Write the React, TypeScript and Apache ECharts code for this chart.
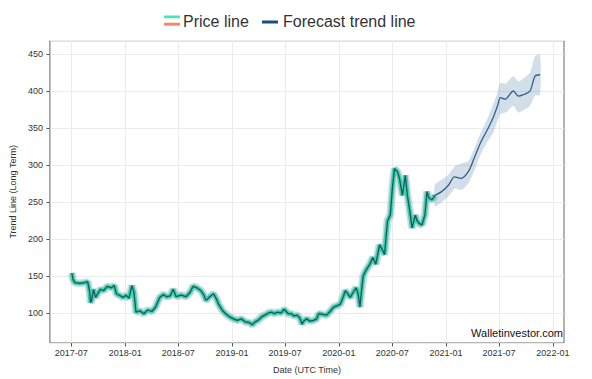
import React, { useEffect, useRef } from "react";
import * as echarts from "echarts";

const priceDates = [
  "2017-07-03", "2017-07-07", "2017-07-13", "2017-07-30", "2017-08-16", "2017-08-26", "2017-09-02", "2017-09-05",
  "2017-09-09", "2017-09-15", "2017-09-22", "2017-09-29", "2017-10-09", "2017-10-19", "2017-11-01", "2017-11-15",
  "2017-11-25", "2017-12-02", "2017-12-12", "2017-12-25", "2018-01-04", "2018-01-14", "2018-01-24", "2018-01-31",
  "2018-02-07", "2018-02-20", "2018-03-06", "2018-03-19", "2018-04-02", "2018-04-15", "2018-04-29", "2018-05-12",
  "2018-05-22", "2018-06-04", "2018-06-14", "2018-06-24", "2018-07-11", "2018-07-28", "2018-08-11", "2018-08-21",
  "2018-09-03", "2018-09-17", "2018-09-27", "2018-10-04", "2018-10-17", "2018-10-30", "2018-11-10", "2018-11-16",
  "2018-11-30", "2018-12-10", "2018-12-23", "2019-01-06", "2019-01-19", "2019-02-02", "2019-02-15", "2019-03-01",
  "2019-03-11", "2019-03-21", "2019-03-31", "2019-04-13", "2019-04-23", "2019-05-06", "2019-05-16", "2019-05-26",
  "2019-06-05", "2019-06-18", "2019-06-28", "2019-07-12", "2019-07-22", "2019-08-01", "2019-08-11", "2019-08-21",
  "2019-08-28", "2019-09-03", "2019-09-13", "2019-09-24", "2019-10-07", "2019-10-17", "2019-10-24", "2019-11-07",
  "2019-11-20", "2019-12-04", "2019-12-14", "2019-12-27", "2020-01-06", "2020-01-16", "2020-01-23", "2020-02-02",
  "2020-02-09", "2020-02-19", "2020-02-29", "2020-03-07", "2020-03-13", "2020-03-17", "2020-03-24", "2020-04-03",
  "2020-04-16", "2020-04-26", "2020-05-06", "2020-05-19", "2020-05-29", "2020-06-05", "2020-06-15", "2020-06-25",
  "2020-07-02", "2020-07-09", "2020-07-19", "2020-07-26", "2020-08-05", "2020-08-15", "2020-08-22", "2020-09-01",
  "2020-09-07", "2020-09-18", "2020-09-24", "2020-10-01", "2020-10-11", "2020-10-21", "2020-10-28", "2020-11-04",
  "2020-11-14", "2020-11-24",
];
const priceValues = [
  154, 145, 141, 140, 141, 142, 128, 114,
  118, 132, 121, 126, 132, 130, 136, 134,
  137, 126, 124, 121, 124, 120, 137, 128,
  101, 103, 99, 104, 102, 108, 121, 125,
  122, 123, 132, 122, 124, 122, 128, 136,
  134, 130, 124, 117, 122, 126, 118, 112,
  103, 99, 95, 92, 90, 92, 88, 87,
  84, 88, 90, 95, 97, 100, 101, 99,
  101, 100, 105, 99, 99, 96, 97, 93,
  85, 89, 92, 89, 90, 92, 99, 98,
  97, 103, 108, 110, 112, 122, 130, 125,
  121, 128, 134, 125, 108, 125, 150, 158,
  166, 175, 166, 192, 185, 179, 224, 233,
  270, 295, 291, 282, 259, 286, 259, 233,
  215, 232, 225, 221, 219, 233, 264, 255,
  253, 259,
];

const forecastDates = [
  "2020-11-24", "2020-12-17", "2021-01-10", "2021-01-30", "2021-02-22", "2021-03-18", "2021-04-07",
  "2021-04-30", "2021-05-24", "2021-06-13", "2021-06-26", "2021-07-06", "2021-07-23", "2021-08-02",
  "2021-08-19", "2021-09-05", "2021-09-22", "2021-10-15", "2021-11-01", "2021-11-18",
];
const forecastValues = [259, 264, 273, 284, 282, 291, 309, 331, 349, 366, 380, 391, 389, 393, 400, 393, 395, 400, 420, 422];
const forecastUpper = [273, 280, 287, 298, 302, 305, 322, 344, 364, 384, 398, 411, 410, 414, 420, 413, 417, 425, 447, 449];
const forecastLower = [244, 250, 258, 268, 266, 275, 292, 315, 332, 345, 360, 369, 371, 374, 380, 371, 374, 380, 394, 395];

const xTickLabels = ["2017-07", "2018-01", "2018-07", "2019-01", "2019-07", "2020-01", "2020-07", "2021-01", "2021-07", "2022-01"];

const ts = (s: string) => {
  const p = s.split("-").map(Number);
  return Date.UTC(p[0], p[1] - 1, p[2] || 1);
};

export default function App() {
  const ref = useRef<HTMLDivElement>(null);
  useEffect(() => {
    document.body.style.margin = "0";
    if (!ref.current) return;
    const chart = echarts.init(ref.current, null, { renderer: "svg" });
    const priceData = priceDates.map((d, i) => [ts(d), priceValues[i]]);
    const fcData = forecastDates.map((d, i) => [ts(d), forecastValues[i]]);
    const bandData = forecastDates.map((d, i) => [ts(d), forecastLower[i], forecastUpper[i]]);
    const tickVals = xTickLabels.map((s) => ts(s));
    const font = "Liberation Sans, Arial, sans-serif";
    chart.setOption({
      animation: false,
      backgroundColor: "#ffffff",
      grid: {
        left: 41.7,
        top: 40.7,
        right: 28,
        bottom: 33,
        show: true,
        borderColor: "#666666",
        borderWidth: 1,
        containLabel: false,
      },
      xAxis: {
        type: "value",
        min: ts("2017-04-19"),
        max: ts("2022-02-08"),
        name: "Date (UTC Time)",
        nameLocation: "middle",
        nameGap: 22,
        nameTextStyle: { fontFamily: font, fontSize: 9, color: "#333" },
        axisLine: { show: false },
        axisTick: { show: true, inside: false, length: 3.5, customValues: tickVals, lineStyle: { color: "#555" } },
        axisLabel: {
          customValues: tickVals,
          fontFamily: font,
          fontSize: 9,
          color: "#333",
          margin: 5,
          formatter: (v: number) => {
            const d = new Date(v);
            return d.getUTCFullYear() + "-" + String(d.getUTCMonth() + 1).padStart(2, "0");
          },
        },
        splitLine: { show: true, lineStyle: { color: "#ebebeb", width: 1 } },
      },
      yAxis: {
        type: "value",
        min: 59.4,
        max: 468,
        splitNumber: 8,
        minInterval: 50,
        maxInterval: 50,
        name: "Trend Line (Long Term)",
        nameLocation: "middle",
        nameGap: 30,
        nameRotate: 90,
        nameTextStyle: { fontFamily: font, fontSize: 9, color: "#333" },
        axisLine: { show: false },
        axisTick: { show: true, inside: false, length: 3.5, lineStyle: { color: "#555" } },
        axisLabel: { fontFamily: font, fontSize: 9, color: "#333", margin: 7, showMinLabel: false, showMaxLabel: false },
        splitLine: { show: true, lineStyle: { color: "#ebebeb", width: 1 } },
      },
      series: [
        {
          name: "Forecast band",
          type: "custom",
          silent: true,
          data: bandData,
          encode: { x: 0, y: [1, 2] },
          z: 1,
          renderItem: (params: any, api: any) => {
            if (params.dataIndex !== 0) return null;
            const up = bandData.map((d) => api.coord([d[0], d[2]]));
            const lo = bandData.map((d) => api.coord([d[0], d[1]])).reverse();
            return {
              type: "group",
              children: [
                { type: "polyline", shape: { points: up, smooth: 0.3 }, style: { stroke: "none", fill: "none" } },
                {
                  type: "polygon",
                  shape: { points: up.concat(lo), smooth: 0.25 },
                  style: { fill: "rgba(80,126,165,0.26)" },
                },
              ],
            };
          },
        },
        {
          name: "Price halo",
          type: "line",
          data: priceData,
          symbol: "none",
          silent: true,
          lineStyle: { color: "rgba(110,140,170,0.3)", width: 8 },
          z: 2,
        },
        {
          name: "Price glow",
          type: "line",
          data: priceData,
          symbol: "none",
          silent: true,
          lineStyle: { color: "#3fd3a9", width: 4.5 },
          z: 3,
        },
        {
          name: "Price line",
          type: "line",
          data: priceData,
          symbol: "none",
          lineStyle: { color: "#1b5565", width: 1.3 },
          z: 4,
        },
        {
          name: "Forecast trend line",
          type: "line",
          data: fcData,
          symbol: "none",
          smooth: 0.3,
          lineStyle: { color: "#2f6290", width: 1.3 },
          z: 4,
        },
      ],
      graphic: [
        { type: "rect", shape: { x: 164, y: 15.5, width: 16, height: 2.8 }, style: { fill: "#4ee3b4" } },
        { type: "rect", shape: { x: 164, y: 22.7, width: 16, height: 3 }, style: { fill: "#f4896b" } },
        {
          type: "text",
          x: 183,
          y: 21.5,
          style: { text: "Price line", fill: "#333", font: "16px " + font, textVerticalAlign: "middle", textAlign: "left" },
        },
        { type: "rect", shape: { x: 262, y: 20.5, width: 16, height: 3 }, style: { fill: "#1a4f7a" } },
        {
          type: "text",
          x: 283,
          y: 21.5,
          style: { text: "Forecast trend line", fill: "#333", font: "16px " + font, textVerticalAlign: "middle", textAlign: "left" },
        },
        {
          type: "text",
          x: 563,
          y: 333,
          z: 10,
          style: { text: "Walletinvestor.com", fill: "#111", font: "11px " + font, textVerticalAlign: "middle", textAlign: "right" },
        },
      ],
    });
    return () => chart.dispose();
  }, []);
  return <div ref={ref} style={{ width: 592, height: 379 }} />;
}
